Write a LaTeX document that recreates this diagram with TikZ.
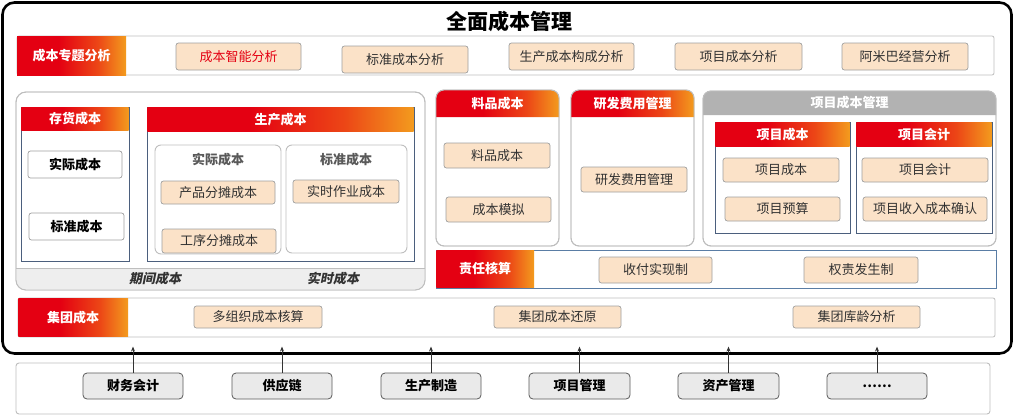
\documentclass[tikz,border=0pt]{standalone}
\usepackage{fontspec}
\setmainfont{Noto Sans CJK SC}
\newfontfamily\slfont{Noto Sans CJK SC}[FakeSlant=0.2]
\usetikzlibrary{arrows.meta}
\definecolor{hred}{RGB}{228,0,18}
\definecolor{hred2}{RGB}{236,70,22}
\definecolor{horange}{RGB}{243,155,30}
\definecolor{peach}{RGB}{251,226,200}
\definecolor{itemborder}{RGB}{160,160,160}
\definecolor{panelgray}{RGB}{190,190,190}
\definecolor{slate}{RGB}{75,95,125}
\definecolor{rowblue}{RGB}{90,125,165}
\definecolor{txt}{RGB}{50,50,50}
\definecolor{hdrgray}{RGB}{178,178,178}
\definecolor{bandgray}{RGB}{238,238,238}
\definecolor{srcfill}{RGB}{234,234,234}
\definecolor{srcborder}{RGB}{90,90,90}
\pgfdeclarehorizontalshading{redorange}{100bp}{color(0bp)=(hred); color(25bp)=(hred); color(44bp)=(hred); color(62bp)=(hred2); color(75bp)=(horange); color(100bp)=(horange)}
\tikzset{
  hdr/.style={shading=redorange, draw=none, text=white, font=\bfseries\fontsize{13}{13}\selectfont},
  item/.style={fill=peach, draw=itemborder, line width=0.7pt, rounded corners=2.5pt, text=txt, font=\fontsize{13}{13}\selectfont},
  witem/.style={fill=white, draw=itemborder, line width=0.7pt, rounded corners=2.5pt, text=black, font=\bfseries\fontsize{13}{13}\selectfont},
  src/.style={fill=srcfill, draw=srcborder, line width=0.8pt, rounded corners=4pt, text=black, font=\bfseries\fontsize{13}{13}\selectfont},
  rowbox/.style={fill=white, draw=panelgray, line width=0.8pt, rounded corners=2pt},
  slatebox/.style={fill=white, draw=slate, line width=0.8pt},
  grayrnd/.style={fill=white, draw=panelgray, line width=0.9pt, rounded corners=#1},
  grayrnd/.default=8pt,
  arr/.style={-{Stealth[length=5pt,width=4pt]}, line width=0.8pt, draw=black!80},
}
\newcommand\bx[7]{%
  \pgfmathsetmacro\bxcx{(#3+#5)/2}%
  \pgfmathsetmacro\bxcy{(#4+#6)/2}%
  \pgfmathsetmacro\bxw{#5-#3}%
  \pgfmathsetmacro\bxh{#6-#4}%
  \node[#2, minimum width=\bxw pt, minimum height=\bxh pt, inner sep=0pt] (#1) at (\bxcx,\bxcy) {#7};}
% header with rounded top corners: name, style, x1,y1,x2,y2, radius, text
\newcommand\rhdr[8]{%
  \path[#2] (#3,#6) [rounded corners=#7] -- (#3,#4) -- (#5,#4) [sharp corners] -- (#5,#6) -- cycle;
  \pgfmathsetmacro\bxcx{(#3+#5)/2}%
  \pgfmathsetmacro\bxcy{(#4+#6)/2}%
  \node[text=white, font=\bfseries\fontsize{13}{13}\selectfont, inner sep=0pt] (#1) at (\bxcx,\bxcy) {#8};}
\begin{document}
\begin{tikzpicture}[x=1pt,y=-1pt]
\useasboundingbox (0,0) rectangle (1015,416);
\fill[white] (0,0) rectangle (1015,416);
% outer frame
\bx{frame}{draw=black, line width=2.6pt, rounded corners=12pt}{2.5}{2.5}{1011.5}{353.5}{}
\node[font=\bfseries\fontsize{21}{21}\selectfont, text=black] (title) at (509,21) {全面成本管理};

% row 1
\bx{row1}{rowbox}{17}{36}{994}{75}{}
\bx{l1}{hdr}{17}{36}{126}{75}{成本专题分析}
\bx{a1}{item, text=hred}{176}{43}{301}{70}{成本智能分析}
\bx{a2}{item}{342}{46}{468}{73}{标准成本分析}
\bx{a3}{item}{509}{43}{634}{70}{生产成本构成分析}
\bx{a4}{item}{675}{43}{802}{70}{项目成本分析}
\bx{a5}{item}{842}{43}{968}{70}{阿米巴经营分析}

% left panel
\bx{lp}{grayrnd=10pt}{16}{92}{425}{290}{}
\path[fill=bandgray] (16,268) -- (425,268) [rounded corners=10pt] -- (425,290) -- (16,290) [sharp corners] -- cycle;
\draw[panelgray, line width=0.9pt, rounded corners=10pt] (16,92) rectangle (425,290);
\draw[panelgray, line width=0.7pt] (16,268) -- (425,268);
\node[font=\slfont\bfseries\fontsize{13}{13}\selectfont, text=txt] (q1) at (155,279) {期间成本};
\node[font=\slfont\bfseries\fontsize{13}{13}\selectfont, text=txt] (q2) at (333,279) {实时成本};

% 存货成本
\bx{ch}{slatebox}{21}{107}{129}{261}{}
\bx{chh}{hdr}{21.4}{107.4}{128.6}{130}{存货成本}
\bx{c1}{witem}{28}{151}{122}{178}{实际成本}
\bx{c2}{witem}{29}{213}{124}{240}{标准成本}

% 生产成本
\bx{sc}{slatebox}{147}{107}{414}{261}{}
\bx{sch}{hdr}{147.4}{107.4}{413.6}{131}{生产成本}
\bx{sa}{grayrnd=6pt}{155}{145}{281}{254}{}
\node[font=\bfseries\fontsize{13}{13}\selectfont, text=black!65] (sat) at (218,160) {实际成本};
\bx{s1}{item}{161}{181}{275}{204}{产品分摊成本}
\bx{s2}{item}{162}{229}{276}{253}{工序分摊成本}
\bx{sb}{grayrnd=6pt}{286}{145}{407}{253}{}
\node[font=\bfseries\fontsize{13}{13}\selectfont, text=black!65] (sbt) at (346,160) {标准成本};
\bx{s3}{item}{293}{180}{399}{203}{实时作业成本}

% 料品成本
\bx{lpc}{grayrnd}{436}{90}{559}{246}{}
\rhdr{lpch}{shading=redorange}{436}{90}{559}{117}{8pt}{料品成本}
\draw[panelgray, line width=0.9pt, rounded corners=8pt] (436,90) rectangle (559,246);
\bx{m1}{item}{444}{143}{550}{168}{料品成本}
\bx{m2}{item}{446}{197}{551}{222}{成本模拟}

% 研发费用管理
\bx{yf}{grayrnd}{571}{90}{694}{246}{}
\rhdr{yfh}{shading=redorange}{571}{90}{694}{117}{8pt}{研发费用管理}
\draw[panelgray, line width=0.9pt, rounded corners=8pt] (571,90) rectangle (694,246);
\bx{y1}{item}{581}{167}{687}{192}{研发费用管理}

% 项目成本管理
\bx{pm}{grayrnd}{703}{91}{996}{246}{}
\rhdr{pmh}{fill=hdrgray}{703}{91}{996}{115}{8pt}{项目成本管理}
\draw[panelgray, line width=0.9pt, rounded corners=8pt] (703,91) rectangle (996,246);
\bx{pc}{slatebox}{715}{122}{850}{233}{}
\bx{pch}{hdr}{715.4}{122.4}{849.6}{146}{项目成本}
\bx{p1}{item}{723}{158}{839}{182}{项目成本}
\bx{p2}{item}{725}{197}{840}{221}{项目预算}
\bx{pa}{slatebox}{856}{122}{992}{233}{}
\bx{pah}{hdr}{856.4}{122.4}{991.6}{146}{项目会计}
\bx{p3}{item}{862}{158}{988}{182}{项目会计}
\bx{p4}{item}{863}{197}{987}{221}{项目收入成本确认}

% 责任核算
\bx{zr}{fill=white, draw=rowblue, line width=0.8pt}{436}{250}{996}{288}{}
\bx{zrh}{hdr}{436.4}{250.4}{534}{287.6}{责任核算}
\bx{z1}{item}{599}{257}{712}{283}{收付实现制}
\bx{z2}{item}{804}{257}{918}{283}{权责发生制}

% 集团成本
\bx{jt}{rowbox}{18}{298}{995}{337}{}
\bx{jth}{hdr}{18.4}{298.4}{128}{336.6}{集团成本}
\bx{j1}{item}{194}{306}{322}{328}{多组织成本核算}
\bx{j2}{item}{494}{306}{621}{328}{集团成本还原}
\bx{j3}{item}{793}{306}{920}{328}{集团库龄分析}

% bottom sources
\bx{bp}{fill=white, draw=panelgray, line width=0.9pt, rounded corners=3pt}{16}{363}{990}{414}{}
\bx{b1}{src}{83}{373}{183}{399}{财务会计}
\bx{b2}{src}{232}{373}{332}{399}{供应链}
\bx{b3}{src}{381}{373}{481}{399}{生产制造}
\bx{b4}{src}{529}{373}{630}{399}{项目管理}
\bx{b5}{src}{678}{373}{779}{399}{资产管理}
\bx{b6}{src}{827}{373}{927}{399}{……}
\foreach \n in {b1,b2,b3,b4,b5,b6}{
  \coordinate (\n t) at ([yshift=26pt]\n.north);
  \draw[arr] (\n.north) -- (\n t);
}
\end{tikzpicture}
\end{document}
